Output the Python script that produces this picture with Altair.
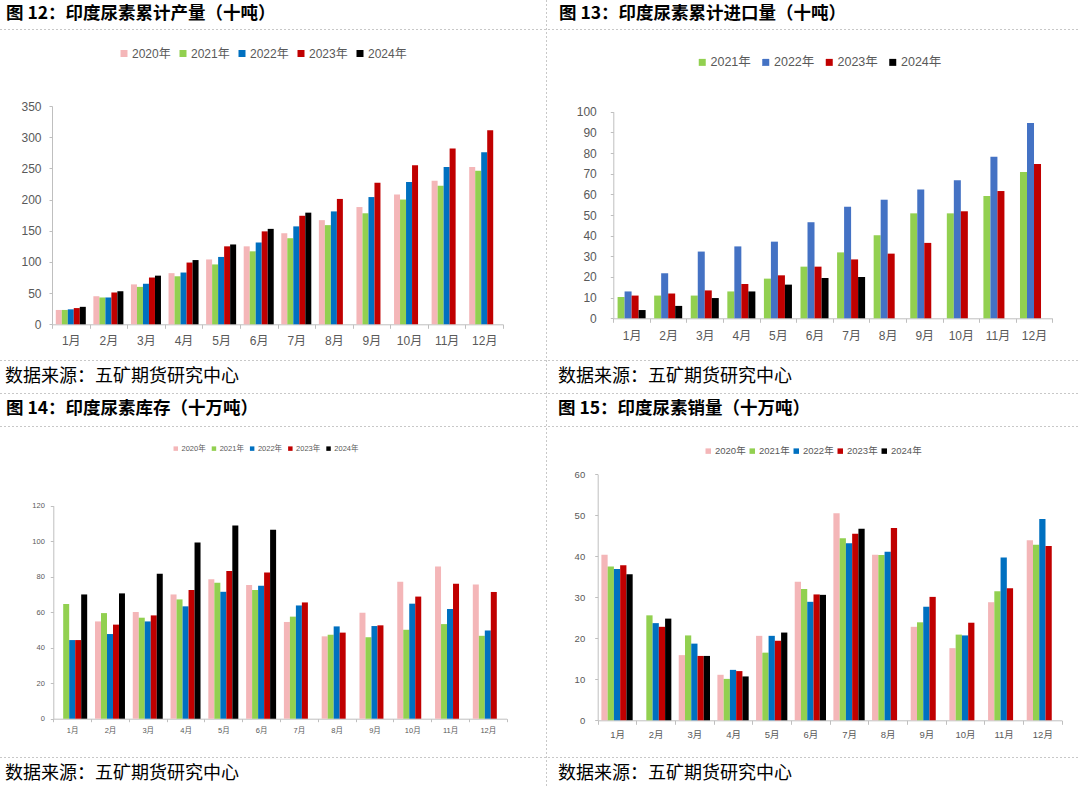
import altair as alt
import pandas as pd

W, H = 1080, 787

FONT = "Liberation Sans, Noto Sans CJK SC"
CJK = "Noto Sans CJK SC"
AXIS_LINE = "#BFBFBF"
LABEL_GRAY = "#595959"
DASH = "#C8C8C8"

months = ["1月", "2月", "3月", "4月", "5月", "6月", "7月", "8月", "9月", "10月", "11月", "12月"]
years5 = ["2020年", "2021年", "2022年", "2023年", "2024年"]
years4 = ["2021年", "2022年", "2023年", "2024年"]
colors5 = ["#F4B6B8", "#92D050", "#0070C0", "#C00000", "#000000"]
colors4 = ["#92D050", "#4472C4", "#C00000", "#000000"]

title1 = "图 12：印度尿素累计产量（十吨）"
title2 = "图 13：印度尿素累计进口量（十吨）"
title3 = "图 14：印度尿素库存（十万吨）"
title4 = "图 15：印度尿素销量（十万吨）"
source = "数据来源：五矿期货研究中心"

# 图12 cumulative production
prod_2020 = [23, 45, 64, 82, 104, 125, 146, 167, 188, 208, 230, 252]
prod_2021 = [23, 43, 60, 77, 96, 117, 138, 159, 178, 200, 222, 246]
prod_2022 = [24, 43, 65, 83, 108, 131, 157, 181, 204, 228, 252, 276]
prod_2023 = [26, 51, 75, 99, 125, 149, 174, 201, 227, 255, 282, 311]
prod_2024 = [28, 53, 78, 103, 128, 153, 179, None, None, None, None, None]

# 图13 cumulative imports
imp_2021 = [10.3, 11, 11, 13, 19.2, 25, 31.9, 40.2, 50.8, 50.8, 59.2, 70.8]
imp_2022 = [13, 21.8, 32.3, 34.8, 37.1, 46.5, 54, 57.4, 62.3, 66.8, 78.2, 94.5]
imp_2023 = [11, 12, 13.5, 16.6, 20.8, 25, 28.5, 31.3, 36.5, 51.8, 61.6, 74.7]
imp_2024 = [4, 6, 9.8, 13, 16.3, 19.5, 20, None, None, None, None, None]

# 图14 inventory
inv_2020 = [None, 54.8, 60.1, 70, 78.5, 75.3, 54.5, 46.4, 59.7, 77.2, 85.8, 75.6]
inv_2021 = [64.6, 59.5, 56.9, 67.2, 76.6, 72.5, 57.5, 47.3, 45.9, 50.1, 53.3, 46.7]
inv_2022 = [44.3, 47.7, 54.8, 63.3, 71.5, 74.9, 63.8, 52, 52.2, 64.8, 61.8, 49.7]
inv_2023 = [44.3, 53, 58.2, 72.5, 83.2, 82.4, 65.5, 48.5, 52.6, 68.8, 76.0, 71.4]
inv_2024 = [70, 70.6, 81.7, 99.3, 108.9, 106.5, None, None, None, None, None, None]

# 图15 sales
sales_2020 = [40.4, None, 15.9, 11.1, 20.6, 33.8, 50.5, 40.4, 22.8, 17.6, 28.8, 43.9]
sales_2021 = [37.5, 25.6, 20.7, 10.1, 16.5, 32, 44.4, 40.3, 23.9, 20.9, 31.5, 42.8]
sales_2022 = [36.9, 23.7, 18.7, 12.3, 20.6, 28.9, 43.2, 41.1, 27.7, 20.7, 39.7, 49.1]
sales_2023 = [37.8, 22.8, 15.7, 12, 19.4, 30.7, 45.5, 46.9, 30.1, 23.8, 32.2, 42.5]
sales_2024 = [35.6, 24.8, 15.7, 10.7, 21.4, 30.6, 46.7, None, None, None, None, None]

ticks1 = [0, 50, 100, 150, 200, 250, 300, 350]
ticks2 = [0, 10, 20, 30, 40, 50, 60, 70, 80, 90, 100]
ticks3 = [0, 20, 40, 60, 80, 100, 120]
ticks4 = [0, 10, 20, 30, 40, 50, 60]


def long_df(years, series):
    rows = []
    for yr, vals in zip(years, series):
        for m, v in zip(months, vals):
            if v is not None:
                rows.append({"m": m, "yr": yr, "v": v})
    return pd.DataFrame(rows)


def bar_layer(df, years, colors, p):
    return alt.Chart(df).mark_bar().encode(
        x=alt.X("m:N", sort=months, title=None,
                scale=alt.Scale(domain=months, range=[p["x0"], p["x1"]], paddingInner=0, paddingOuter=0),
                axis=alt.Axis(orient="bottom", offset=p["y0"] - H, labelAngle=0, tickBand="extent",
                              tickSize=p["xts"], labelPadding=p["xlp"], labelFontSize=p["fs"],
                              labelColor=LABEL_GRAY, labelFont=FONT, domainColor=AXIS_LINE,
                              tickColor=AXIS_LINE, grid=False)),
        xOffset=alt.XOffset("yr:N", sort=years,
                            scale=alt.Scale(domain=years, paddingInner=0, paddingOuter=p["po"])),
        y=alt.Y("v:Q", title=None,
                scale=alt.Scale(domain=[0, p["ymax"]], range=[p["y0"], p["y1"]], nice=False, zero=True),
                axis=alt.Axis(orient="left", offset=-p["x0"], values=p["ticks"], tickSize=3,
                              labelPadding=p["ylp"], labelFontSize=p["fs"], labelColor=LABEL_GRAY,
                              labelFont=FONT, domainColor=AXIS_LINE, tickColor=AXIS_LINE, grid=False)),
        color=alt.Color("yr:N", sort=years,
                        scale=alt.Scale(domain=years, range=colors),
                        legend=alt.Legend(orient="none", legendX=p["lx"], legendY=p["ly"],
                                          direction="horizontal", columns=len(years), title=None,
                                          symbolType="square", symbolSize=p["ss"], symbolStrokeWidth=0,
                                          labelFontSize=p["lfs"], labelFont=FONT, labelColor=LABEL_GRAY,
                                          labelOffset=2, columnPadding=p["cp"])),
    )


one = alt.Data(values=[{}])


def text_layer(txt, x, y, size, bold):
    return alt.Chart(one).mark_text(
        text=txt, align="left", baseline="middle", font=CJK, fontSize=size,
        fontWeight="bold" if bold else "normal", color="#000000"
    ).encode(x=alt.value(x), y=alt.value(y))


def hline(y):
    return alt.Chart(one).mark_rule(color=DASH, strokeDash=[2, 2], strokeWidth=1).encode(
        x=alt.value(0), x2=alt.value(W), y=alt.value(y))


def vline(x):
    return alt.Chart(one).mark_rule(color=DASH, strokeDash=[2, 2], strokeWidth=1).encode(
        x=alt.value(x), y=alt.value(0), y2=alt.value(H))


p1 = dict(x0=52, x1=503, y0=324.3, y1=106, ymax=350, ticks=ticks1, fs=12, po=0.63,
          xts=4, xlp=7, ylp=8, lx=118, ly=47.5, ss=49, lfs=12, cp=6)
p2 = dict(x0=613.3, x1=1052.3, y0=318.3, y1=111.7, ymax=100, ticks=ticks2, fs=12, po=0.61,
          xts=4, xlp=8, ylp=14, lx=696, ly=56, ss=49, lfs=12.5, cp=8.5)
p3 = dict(x0=53.3, x1=506.7, y0=718.7, y1=505.7, ymax=120, ticks=ticks3, fs=7.5, po=0.65,
          xts=3, xlp=4.5, ylp=6, lx=172, ly=444.5, ss=20, lfs=7.5, cp=4.2)
p4 = dict(x0=597.7, x1=1061.7, y0=720.3, y1=474.3, ymax=60, ticks=ticks4, fs=9.5, po=0.59,
          xts=4, xlp=5.5, ylp=10, lx=703.5, ly=446, ss=30, lfs=9.5, cp=1)

layers = [
    bar_layer(long_df(years5, [prod_2020, prod_2021, prod_2022, prod_2023, prod_2024]), years5, colors5, p1),
    bar_layer(long_df(years4, [imp_2021, imp_2022, imp_2023, imp_2024]), years4, colors4, p2),
    bar_layer(long_df(years5, [inv_2020, inv_2021, inv_2022, inv_2023, inv_2024]), years5, colors5, p3),
    bar_layer(long_df(years5, [sales_2020, sales_2021, sales_2022, sales_2023, sales_2024]), years5, colors5, p4),
    hline(29.5), hline(360.5), hline(393.5), hline(426.5), hline(757.5), vline(546.5),
    text_layer(title1, 6, 13.5, 17.5, True),
    text_layer(title2, 559, 13.5, 17.5, True),
    text_layer(title3, 6, 409, 17.5, True),
    text_layer(title4, 558, 409, 17.5, True),
    text_layer(source, 5, 376.5, 18, False),
    text_layer(source, 558, 376.5, 18, False),
    text_layer(source, 5, 773.5, 18, False),
    text_layer(source, 558, 773.5, 18, False),
]

chart = alt.layer(*layers).resolve_scale(
    x="independent", y="independent", color="independent", xOffset="independent"
).properties(
    width=W, height=H, autosize=alt.AutoSizeParams(type="none"), padding=0
).configure_view(stroke=None)

chart.save("out.html", embed_options={"renderer": "svg", "actions": False})
